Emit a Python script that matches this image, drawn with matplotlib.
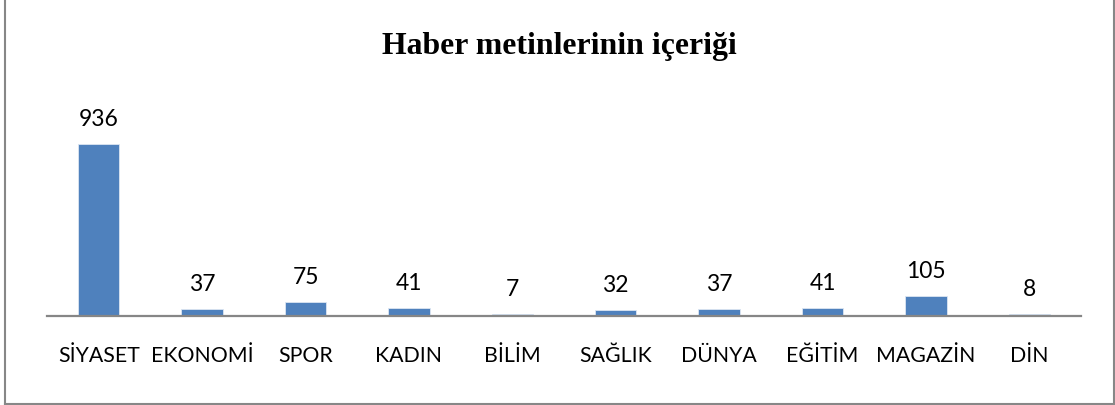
import matplotlib
matplotlib.use("Agg")
import matplotlib.pyplot as plt
from matplotlib.lines import Line2D
from matplotlib.transforms import blended_transform_factory, offset_copy

categories = ["SİYASET", "EKONOMİ", "SPOR", "KADIN", "BİLİM", "SAĞLIK", "DÜNYA", "EĞİTİM", "MAGAZİN", "DİN"]
values = [936, 37, 75, 41, 7, 32, 37, 41, 105, 8]
title = "Haber metinlerinin içeriği"

W, H = 1115, 405
fig = plt.figure(figsize=(W / 100, H / 100), dpi=100)
fig.patch.set_facecolor("white")

ax_left, ax_right = 47, 1081
ax_top, ax_bottom = 132.6, 315.7
ax = fig.add_axes([ax_left / W, 1 - ax_bottom / H, (ax_right - ax_left) / W, (ax_bottom - ax_top) / H])

x = list(range(len(categories)))
ax.bar(x, values, width=0.40, color="#4F81BD", edgecolor="#DCE6F2", linewidth=0.6, zorder=2)
ax.set_xlim(-0.5, len(categories) - 0.5)
ax.set_ylim(0, 1000)
ax.set_yticks([])
ax.set_xticks([])
for s in ["top", "right", "left"]:
    ax.spines[s].set_visible(False)
ax.spines["bottom"].set_color("#868686")
ax.spines["bottom"].set_linewidth(1.6)
ax.patch.set_alpha(0)

# category labels with common baseline (46 px below axis)
trans = offset_copy(blended_transform_factory(ax.transData, ax.transAxes), fig=fig, y=-46 * 0.72, units="points")
for xi, c in zip(x, categories):
    ax.text(xi, 0, c, transform=trans, ha="center", va="baseline",
            fontfamily="Lato", fontsize=15.3, color="black")

for xi, v in zip(x, values):
    ax.annotate(str(v), (xi, v), xytext=(0, 13), textcoords="offset points",
                ha="center", va="baseline", fontfamily="Lato", fontsize=16.5, color="black")

fig.text(559 / W, 1 - 54 / H, title, ha="center", va="baseline",
         fontfamily="Liberation Serif", fontweight="bold", fontsize=22.9, color="black")

# outer border (left, right, bottom)
bc = "#878787"
lw = 1.5
fig.add_artist(Line2D([4.5 / W, 4.5 / W], [1 - 404 / H, 1.0], transform=fig.transFigure, color=bc, lw=lw))
fig.add_artist(Line2D([1113.5 / W, 1113.5 / W], [1 - 404 / H, 1.0], transform=fig.transFigure, color=bc, lw=lw))
fig.add_artist(Line2D([4.5 / W, 1113.5 / W], [1 - 403.5 / H, 1 - 403.5 / H], transform=fig.transFigure, color=bc, lw=lw))

fig.savefig("out.png", dpi=100, facecolor="white")
